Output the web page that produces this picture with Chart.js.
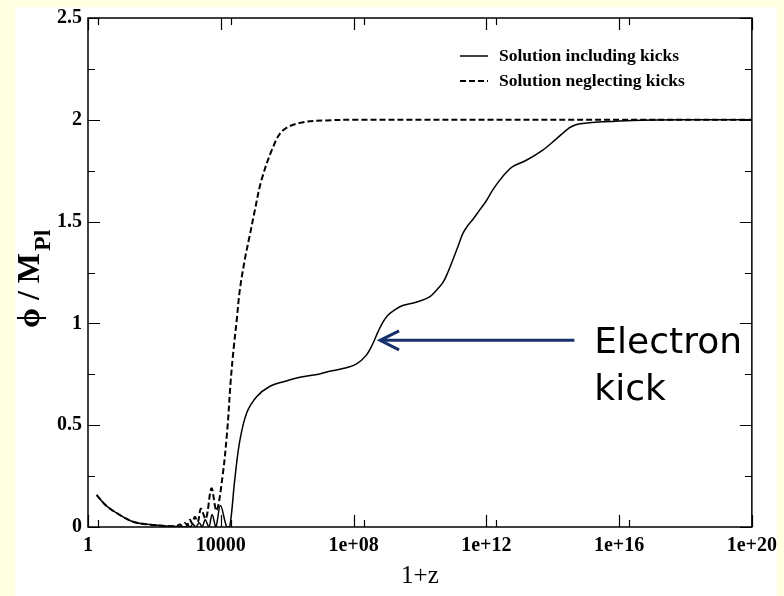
<!DOCTYPE html>
<html>
<head>
<meta charset="utf-8">
<script src="https://cdn.jsdelivr.net/npm/chart.js@4"></script>
<style>
html,body{margin:0;padding:0;background:#FFFFE1;}
#c{display:block;}
</style>
</head>
<body>
<canvas id="c" width="784" height="596"></canvas>
<script>
// ---- data ----
const solidZ = [1.82, 3.63, 9.12, 22.9, 58.9, 234, 501, 851, 1023, 1202, 1445, 1778, 2239, 2754, 3388, 4365, 5495, 7079, 9772, 15136, 18621, 26303, 37154, 60256, 120226, 295121, 831764, 2.4e6, 9.55e6, 1.9e7, 4.8e7, 1.2e8, 2.4e8, 3.8e8, 5.4e8, 7.6e8, 1.05e9, 1.7e9, 3.0e9, 7.6e9, 1.9e10, 3.1e10, 4.9e10, 6.9e10, 9.7e10, 1.37e11, 1.94e11, 2.75e11, 3.9e11, 6.1e11, 9.8e11, 1.55e12, 2.45e12, 3.9e12, 6.2e12, 1.55e13, 4.9e13, 1.26e14, 3.16e14, 5.0e14, 7.9e14, 3.2e15, 2.5e16, 1e18, 1e20];
const solidPhi = [0.157, 0.103, 0.059, 0.026, 0.013, 0.005, 0.003, 0, 0.008, 0, 0.013, 0, 0.021, 0, 0.036, 0, 0.062, 0, 0.105, 0, 0, 0.23, 0.42, 0.56, 0.64, 0.69, 0.715, 0.735, 0.752, 0.765, 0.778, 0.80, 0.843, 0.90, 0.957, 1.005, 1.038, 1.065, 1.088, 1.104, 1.129, 1.162, 1.20, 1.25, 1.31, 1.374, 1.44, 1.48, 1.51, 1.554, 1.60, 1.655, 1.70, 1.74, 1.77, 1.80, 1.85, 1.905, 1.96, 1.976, 1.982, 1.99, 1.997, 2.0, 2.0];

const dashedZ = [1.82, 3.63, 9.12, 22.9, 58.9, 234, 450, 589, 692, 832, 977, 1175, 1380, 1660, 2042, 2512, 3548, 5248, 7413, 11220, 15668, 19953, 24547, 30200, 37154, 52481, 74131, 104713, 165959, 363078, 724436, 2.4e6, 1.55e7, 1e8, 1e20];
const dashedPhi = [0.157, 0.103, 0.059, 0.026, 0.013, 0.005, 0.004, 0.012, 0.006, 0.02, 0.01, 0.035, 0.018, 0.05, 0.025, 0.09, 0.04, 0.19, 0.08, 0.245, 0.475, 0.72, 0.88, 1.015, 1.16, 1.31, 1.43, 1.55, 1.70, 1.86, 1.946, 1.985, 1.997, 2.0, 2.0];

const seriesNames = ['Solution including kicks', 'Solution neglecting kicks'];

const xMajorTicks = [1, 1e4, 1e8, 1e12, 1e16, 1e20];
const xTickLabels = ['1', '10000', '1e+08', '1e+12', '1e+16', '1e+20'];
const xMinorTicks = [2, 2e4, 2e8, 2e12, 2e16];
const yMajorTicks = [0, 0.5, 1, 1.5, 2, 2.5];
const yTickLabels = ['0', '0.5', '1', '1.5', '2', '2.5'];
const yMinorTicks = [0.25, 0.75, 1.25, 1.75, 2.25];

// annotation (data coordinates)
const arrowTip = {z: 6.3e8, phi: 0.917};
const arrowTail = {z: 4.5e14, phi: 0.917};
const noteLines = ['Electron', 'kick'];
const noteZ = 1.8e15;
const notePhi = [0.853, 0.623];

// ---- helpers ----
const toPoints = (xs, ys) => xs.map((v, i) => ({x: v, y: ys[i]}));
const SERIF = '"Liberation Serif", "Times New Roman", serif';

const decor = {
  id: 'decor',
  beforeDraw(chart) {
    const ctx = chart.ctx;
    ctx.save();
    ctx.fillStyle = '#FFFFE1';
    ctx.fillRect(0, 0, chart.width, chart.height);
    ctx.fillStyle = '#FFFFFF';
    ctx.fillRect(15, 7, 762, 589);
    ctx.restore();
  },
  afterDraw(chart) {
    const {ctx, chartArea: a, scales: {x, y}} = chart;
    ctx.save();
    // frame
    ctx.strokeStyle = '#000';
    ctx.lineWidth = 1.5;
    ctx.setLineDash([]);
    ctx.strokeRect(a.left, a.top, a.right - a.left, a.bottom - a.top);
    // inward ticks
    ctx.lineWidth = 1.2;
    ctx.beginPath();
    const xt = (vals, len) => vals.forEach(v => {
      const px = Math.round(x.getPixelForValue(v)) + 0.5;
      ctx.moveTo(px, a.bottom); ctx.lineTo(px, a.bottom - len);
      ctx.moveTo(px, a.top); ctx.lineTo(px, a.top + len);
    });
    const yt = (vals, len) => vals.forEach(v => {
      const py = Math.round(y.getPixelForValue(v)) + 0.5;
      ctx.moveTo(a.left, py); ctx.lineTo(a.left + len, py);
      ctx.moveTo(a.right, py); ctx.lineTo(a.right - len, py);
    });
    xt(xMajorTicks, 12); xt(xMinorTicks, 7);
    yt(yMajorTicks, 12); yt(yMinorTicks, 7);
    ctx.stroke();

    // legend
    ctx.font = 'bold 17.5px ' + SERIF;
    ctx.textBaseline = 'middle';
    ctx.textAlign = 'left';
    ctx.fillStyle = '#000';
    chart.data.datasets.forEach((ds, i) => {
      const yy = 56 + i * 25;
      ctx.beginPath();
      ctx.setLineDash(ds.borderDash || []);
      ctx.lineWidth = ds.borderWidth;
      ctx.moveTo(460, yy); ctx.lineTo(488, yy);
      ctx.stroke();
      ctx.setLineDash([]);
      ctx.fillText(ds.label, 499, yy);
    });

    // y-axis title with subscript
    ctx.save();
    ctx.translate(39, 328);
    ctx.rotate(-Math.PI / 2);
    ctx.textBaseline = 'alphabetic';
    ctx.font = 'bold 32px ' + SERIF;
    const main = '\u03D5 / M';
    ctx.fillText(main, 0, 0);
    const w = ctx.measureText(main).width;
    ctx.font = 'bold 24px ' + SERIF;
    ctx.fillText('Pl', w + 2, 11);
    ctx.restore();

    // arrow
    const tx = x.getPixelForValue(arrowTip.z), ty = y.getPixelForValue(arrowTip.phi);
    const sx = x.getPixelForValue(arrowTail.z), sy = y.getPixelForValue(arrowTail.phi);
    ctx.strokeStyle = '#16306C';
    ctx.lineWidth = 3;
    ctx.lineCap = 'butt';
    ctx.beginPath();
    ctx.moveTo(sx, sy); ctx.lineTo(tx + 1, ty);
    ctx.stroke();
    ctx.beginPath();
    ctx.moveTo(tx + 19, ty - 9.5); ctx.lineTo(tx, ty); ctx.lineTo(tx + 19, ty + 9.5);
    ctx.stroke();

    // note text
    ctx.fillStyle = '#000';
    ctx.font = '36px "Comic Sans MS", "DejaVu Sans", sans-serif';
    ctx.textBaseline = 'alphabetic';
    const nx = x.getPixelForValue(noteZ);
    noteLines.forEach((t, i) => ctx.fillText(t, nx, y.getPixelForValue(notePhi[i])));
    ctx.restore();
  }
};

new Chart(document.getElementById('c'), {
  type: 'line',
  data: {
    datasets: [
      {label: seriesNames[0], data: toPoints(solidZ, solidPhi), borderColor: '#000', borderWidth: 1.5,
       pointRadius: 0, tension: 0.35, fill: false},
      {label: seriesNames[1], data: toPoints(dashedZ, dashedPhi), borderColor: '#000', borderWidth: 2,
       borderDash: [6, 3], pointRadius: 0, tension: 0.35, fill: false}
    ]
  },
  options: {
    responsive: false,
    animation: false,
    devicePixelRatio: 1,
    layout: {padding: {left: 0, right: 31, top: 17, bottom: 0}},
    plugins: {legend: {display: false}, tooltip: {enabled: false}},
    scales: {
      x: {
        type: 'logarithmic', min: 1, max: 1e20,
        afterBuildTicks: s => { s.ticks = xMajorTicks.map(v => ({value: v})); },
        afterFit: s => { s.height = 69; },
        grid: {display: false, drawTicks: false},
        border: {display: false},
        ticks: {
          autoSkip: false, maxRotation: 0, padding: 7, color: '#000',
          font: {family: SERIF, size: 20, weight: 'bold'},
          callback: v => { const i = xMajorTicks.indexOf(v); return i >= 0 ? xTickLabels[i] : ''; }
        },
        title: {display: true, text: '1+z', color: '#000', font: {family: SERIF, size: 25}, padding: {top: 0, bottom: 5}}
      },
      y: {
        type: 'linear', min: 0, max: 2.5,
        afterBuildTicks: s => { s.ticks = yMajorTicks.map(v => ({value: v})); },
        afterFit: s => { s.width = 88; },
        grid: {display: false, drawTicks: false},
        border: {display: false},
        ticks: {
          padding: 6, color: '#000',
          font: {family: SERIF, size: 20, weight: 'bold'},
          callback: v => { const i = yMajorTicks.indexOf(v); return i >= 0 ? yTickLabels[i] : ''; }
        }
      }
    }
  },
  plugins: [decor]
});
</script>
</body>
</html>
